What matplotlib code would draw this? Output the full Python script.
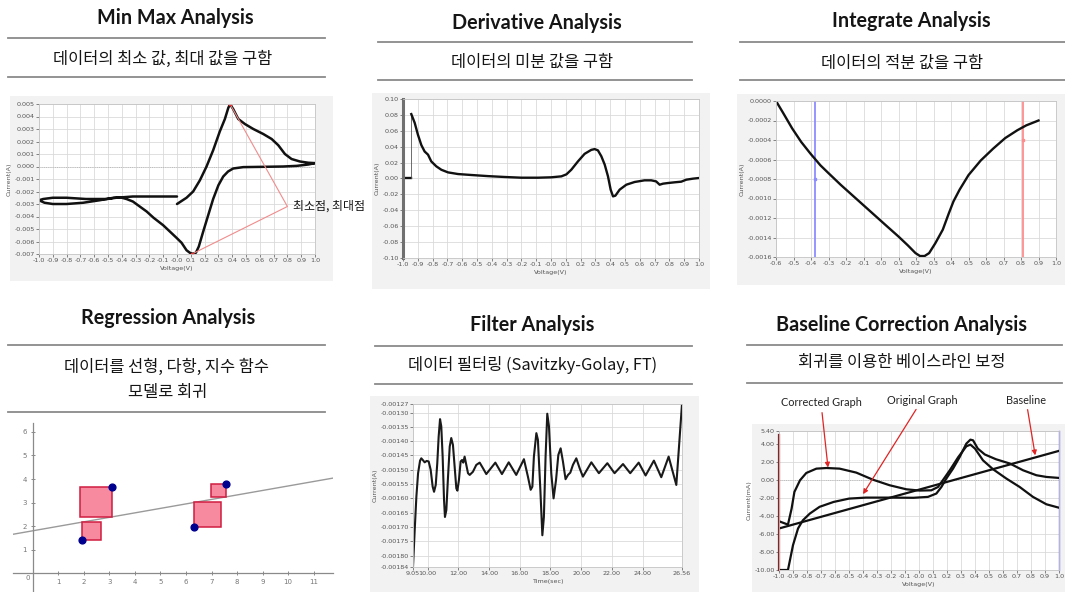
import numpy as np
import matplotlib.pyplot as plt
from matplotlib.lines import Line2D
from matplotlib.patches import Rectangle

# ---------------- data ----------------
# Min / Max: cyclic voltammogram, voltage (V) and current (A)
minmax_v = [0.000, 0.069, 0.117, 0.166, 0.214, 0.262, 0.310, 0.347, 0.372, 0.385,
            0.407, 0.444, 0.492, 0.553, 0.625, 0.686, 0.734, 0.782, 0.830, 0.891,
            0.952, 1.000, 0.952, 0.867, 0.770, 0.600, 0.480, 0.407, 0.370, 0.335,
            0.300, 0.262, 0.226, 0.190, 0.158, 0.137, 0.112, 0.093, 0.069, 0.033,
            -0.004, -0.052, -0.100, -0.170, -0.220, -0.270, -0.320, -0.366, -0.400, -0.460,
            -0.560, -0.680, -0.800, -0.900, -0.960, -1.000, -0.970, -0.900, -0.800, -0.660,
            -0.510, -0.440, -0.320, -0.200, -0.080, 0.000]
minmax_i = [-3.00e-3, -2.50e-3, -2.00e-3, -1.10e-3, 0.00e-3, 1.30e-3, 2.80e-3, 3.80e-3, 4.70e-3, 4.98e-3,
            4.60e-3, 3.80e-3, 3.40e-3, 3.00e-3, 2.60e-3, 2.20e-3, 1.70e-3, 1.00e-3, 0.60e-3, 0.40e-3,
            0.30e-3, 0.27e-3, 0.16e-3, 0.05e-3, 0.00e-3, -0.03e-3, -0.05e-3, -0.16e-3, -0.40e-3, -0.80e-3,
            -1.50e-3, -2.60e-3, -3.90e-3, -5.20e-3, -6.40e-3, -6.90e-3, -6.98e-3, -6.90e-3, -6.70e-3, -6.10e-3,
            -5.70e-3, -5.20e-3, -4.70e-3, -4.10e-3, -3.60e-3, -3.20e-3, -2.80e-3, -2.60e-3, -2.50e-3, -2.50e-3,
            -2.70e-3, -2.90e-3, -3.00e-3, -3.00e-3, -2.90e-3, -2.70e-3, -2.60e-3, -2.50e-3, -2.50e-3, -2.60e-3,
            -2.60e-3, -2.50e-3, -2.40e-3, -2.40e-3, -2.40e-3, -2.40e-3]

# Derivative of the sweep
deriv_v = [-1.000, -0.944, -0.944, -0.921, -0.899, -0.876, -0.854, -0.831, -0.809, -0.775,
           -0.741, -0.696, -0.628, -0.538, -0.426, -0.313, -0.200, -0.088, 0.002, 0.070,
           0.104, 0.137, 0.182, 0.227, 0.272, 0.295, 0.317, 0.340, 0.363, 0.385,
           0.403, 0.419, 0.435, 0.464, 0.509, 0.565, 0.632, 0.677, 0.710, 0.734,
           0.757, 0.790, 0.835, 0.880, 0.914, 0.959, 1.000]
deriv_i = [0.000, 0.000, 0.081, 0.070, 0.055, 0.042, 0.034, 0.030, 0.0215, 0.0153,
           0.0110, 0.0077, 0.0056, 0.0044, 0.0030, 0.0019, 0.0010, 0.0010, 0.0015, 0.0027,
           0.0052, 0.0110, 0.0215, 0.0310, 0.0360, 0.0370, 0.0354, 0.0280, 0.0174, 0.0027,
           -0.0140, -0.0225, -0.0216, -0.0140, -0.0078, -0.0044, -0.0023, -0.0023, -0.0036, -0.0078,
           -0.0065, -0.0057, -0.0048, -0.0040, -0.0015, -0.0002, 0.0006]

# Integral of the sweep
integ_v = [-0.600, -0.560, -0.508, -0.456, -0.403, -0.346, -0.300, -0.230, -0.143, -0.056,
           0.031, 0.100, 0.153, 0.197, 0.223, 0.249, 0.275, 0.310, 0.353, 0.388,
           0.414, 0.449, 0.500, 0.570, 0.640, 0.710, 0.779, 0.830, 0.900]
integ_i = [0.0000, -0.00012, -0.00028, -0.00042, -0.00054, -0.00066, -0.00074, -0.00086, -0.00100, -0.00114,
           -0.00128, -0.00139, -0.00148, -0.00156, -0.00159, -0.00159, -0.00156, -0.00146, -0.00132, -0.00115,
           -0.00103, -0.00091, -0.00076, -0.00061, -0.00049, -0.00038, -0.00030, -0.00025, -0.00020]
integ_bounds = [-0.38, 0.81]
integ_marks = [-0.00080, -0.00040]

# Regression sample points
reg_x = [1.92, 3.10, 6.32, 7.55]
reg_y = [1.40, 3.65, 1.96, 3.79]

# Filtered signal, time (s) and current (A)
filt_t = [9.05, 9.16, 9.27, 9.38, 9.51, 9.59, 9.72, 9.81, 9.94, 10.07,
          10.20, 10.33, 10.42, 10.53, 10.63, 10.72, 10.81, 10.89, 10.98, 11.07,
          11.13, 11.22, 11.33, 11.44, 11.54, 11.65, 11.76, 11.87, 11.94, 12.04,
          12.15, 12.24, 12.32, 12.41, 12.52, 12.63, 12.74, 12.95, 13.17, 13.39,
          13.61, 13.82, 14.41, 14.84, 15.28, 15.77, 16.27, 16.53, 16.71, 16.82,
          16.92, 17.08, 17.18, 17.34, 17.47, 17.57, 17.68, 17.79, 17.90, 18.05,
          18.20, 18.36, 18.51, 18.66, 18.81, 18.98, 19.14, 19.29, 19.46, 19.68,
          19.90, 20.11, 20.66, 21.15, 21.70, 22.17, 22.72, 23.19, 23.74, 24.19,
          24.73, 25.21, 25.69, 26.19, 26.56]
filt_i = [-184.0, -171.2, -159.4, -151.2, -146.8, -146.0, -146.8, -147.4, -146.9, -147.1,
          -150.0, -155.9, -157.7, -155.3, -147.7, -138.4, -132.3, -134.8, -145.4, -160.6,
          -166.5, -164.1, -152.4, -141.9, -138.9, -141.3, -148.9, -156.5, -157.3, -153.6,
          -147.1, -146.6, -147.5, -145.4, -148.3, -151.2, -151.8, -150.7, -148.3, -147.5,
          -149.5, -151.5, -147.5, -151.5, -147.4, -151.8, -146.3, -152.4, -157.0, -155.9,
          -145.4, -137.2, -139.5, -157.0, -172.9, -166.5, -145.4, -130.4, -134.8, -151.2,
          -160.0, -153.6, -144.8, -142.5, -147.1, -153.3, -151.8, -151.0, -148.3, -146.0,
          -149.5, -152.4, -147.4, -151.2, -147.7, -151.2, -148.0, -151.2, -147.5, -152.0,
          -146.8, -152.6, -145.4, -155.3, -127.0]
filt_i = [v * 1e-5 for v in filt_i]

# Baseline correction (mA)
orig_v = [-1.0, -0.936, -0.90, -0.864, -0.83, -0.78, -0.71, -0.61, -0.50, -0.38,
          -0.21, -0.04, 0.064, 0.124, 0.16, 0.195, 0.243, 0.29, 0.338, 0.367,
          0.386, 0.42, 0.47, 0.55, 0.65, 0.743, 0.838, 0.91, 1.0]
orig_i = [-10.0, -10.0, -7.25, -5.4, -4.5, -3.75, -3.0, -2.46, -2.09, -1.98,
          -1.98, -2.0, -1.9, -1.53, -0.8, 0.13, 1.23, 2.5, 4.0, 4.44,
          4.37, 3.45, 2.8, 2.27, 1.79, 1.05, 0.5, 0.31, 0.2]
corr_v = [-1.0, -0.936, -0.91, -0.89, -0.85, -0.805, -0.733, -0.66, -0.567, -0.448,
          -0.33, -0.21, -0.09, 0.005, 0.088, 0.136, 0.17, 0.22, 0.28, 0.338,
          0.367, 0.40, 0.457, 0.529, 0.624, 0.719, 0.814, 0.91, 1.0]
corr_i = [-4.6, -4.97, -3.2, -1.35, -0.06, 0.75, 1.23, 1.3, 1.23, 0.79,
          0.01, -0.61, -1.06, -1.2, -1.17, -0.8, -0.06, 1.05, 2.5, 3.7,
          3.89, 3.45, 2.15, 1.16, 0.13, -0.8, -1.9, -2.72, -3.1]
base_v = [-1.0, 1.0]
base_i = [-5.4, 3.2]

# tick labels
volt_ticks = [round(-1.0 + 0.1 * k, 1) for k in range(21)]
volt_labels = ['-1.0', '-0.9', '-0.8', '-0.7', '-0.6', '-0.5', '-0.4', '-0.3', '-0.2', '-0.1', '-0.0',
               '0.1', '0.2', '0.3', '0.4', '0.5', '0.6', '0.7', '0.8', '0.9', '1.0']

# ---------------- layout helpers ----------------
W, H = 1065, 592
plt.rcParams['font.family'] = ['DejaVu Sans']
fig = plt.figure(figsize=(W / 100, H / 100), dpi=100)
fig.patch.set_facecolor('white')

TXT = ['Lato', 'Noto Sans CJK KR']
KR = ['Noto Sans CJK KR', 'Lato']


def box(x0, y0, x1, y1):
    return [x0 / W, 1 - y1 / H, (x1 - x0) / W, (y1 - y0) / H]


def rule(x0, x1, y):
    fig.add_artist(Line2D([x0 / W, x1 / W], [1 - y / H, 1 - y / H], color='#8a8a8a', lw=1.3))


def header(cx, ty, title, subs, x0, x1, r1, r2):
    fig.text(cx / W, 1 - ty / H, title, ha='center', va='center', fontsize=14.2,
             fontweight='bold', family=TXT, color='#151515')
    for sx, sy, s in subs:
        fig.text(sx / W, 1 - sy / H, s, ha='center', va='center', fontsize=11.8,
                 family=KR, fontweight='medium', color='#151515')
    rule(x0, x1, r1)
    rule(x0, x1, r2)


def backdrop(x0, y0, x1, y1):
    fig.add_artist(Rectangle((x0 / W, 1 - y1 / H), (x1 - x0) / W, (y1 - y0) / H,
                             facecolor='#f2f2f2', edgecolor='none', zorder=0))


def scope(rect, xlim, ylim, xt, xl, yt, yl, xlabel, ylabel):
    ax = fig.add_axes(box(*rect))
    ax.set_xlim(xlim)
    ax.set_ylim(ylim)
    ax.set_xticks(xt)
    ax.set_xticklabels(xl)
    ax.set_yticks(yt)
    ax.set_yticklabels(yl)
    ax.grid(True, color='#dadada', lw=0.6)
    ax.set_axisbelow(True)
    ax.tick_params(labelsize=4.6, length=2, width=0.5, colors='#555555', pad=1)
    for s in ax.spines.values():
        s.set_color('#c4c4c4')
        s.set_linewidth(0.6)
    ax.set_xlabel(xlabel, fontsize=4.6, labelpad=2, color='#555555')
    ax.set_ylabel(ylabel, fontsize=4.6, labelpad=2, color='#555555')
    return ax


# ---------------- Min Max ----------------
header(175, 18, 'Min Max Analysis', [(163, 59, '데이터의 최소 값, 최대 값을 구함')], 8, 325, 38, 77)
backdrop(10, 96, 333, 281)
mm_yt = [0.005, 0.004, 0.003, 0.002, 0.001, 0.0, -0.001, -0.002, -0.003, -0.004, -0.005, -0.006, -0.007]
ax1 = scope((39, 104, 315, 254), (-1, 1), (-0.007, 0.005), volt_ticks, volt_labels,
            mm_yt, [f'{t:.3f}' for t in mm_yt], 'Voltage(V)', 'Current(A)')
ax1.axhline(0, color='#b0b0b0', lw=0.6, ls=':')
ax1.plot(minmax_v, minmax_i, color='#111111', lw=1.8, solid_capstyle='round')
kmax, kmin = int(np.argmax(minmax_i)), int(np.argmin(minmax_i))
pivot = (0.80, -0.0032)
ax1.plot([minmax_v[kmax], pivot[0], minmax_v[kmin]], [minmax_i[kmax], pivot[1], minmax_i[kmin]],
         color='#f08c8c', lw=0.8)
ax1.plot([minmax_v[kmax], minmax_v[kmin]], [minmax_i[kmax], minmax_i[kmin]], 's',
         color='#e83030', ms=2)
ax1.annotate('최소점, 최대점', xy=pivot, xytext=(4, 0), textcoords='offset points',
             va='center', fontsize=8.6, family=KR, color='#151515', annotation_clip=False)

# ---------------- Derivative ----------------
header(537, 23, 'Derivative Analysis', [(532, 62, '데이터의 미분 값을 구함')], 378, 692, 42, 80)
backdrop(372, 93, 710, 289)
dv_yt = [0.10, 0.08, 0.06, 0.04, 0.02, 0.0, -0.02, -0.04, -0.06, -0.08, -0.10]
ax2 = scope((403, 99, 699, 258), (-1, 1), (-0.1, 0.1), volt_ticks, volt_labels,
            dv_yt, [f'{t:.2f}' for t in dv_yt], 'Voltage(V)', 'Current(A)')
ax2.spines['left'].set_color('#707070')
ax2.spines['left'].set_linewidth(2.2)
# flat start, thin jump, then the smooth trace
ax2.plot(deriv_v[:2], deriv_i[:2], color='#111111', lw=1.7)
ax2.plot(deriv_v[1:3], deriv_i[1:3], color='#555555', lw=0.6)
ax2.plot(deriv_v[2:], deriv_i[2:], color='#111111', lw=1.7)

# ---------------- Integrate ----------------
header(911, 21, 'Integrate Analysis', [(902, 63, '데이터의 적분 값을 구함')], 740, 1065, 42, 80)
backdrop(737, 94, 1065, 285)
it_yt = [0.0, -0.0002, -0.0004, -0.0006, -0.0008, -0.0010, -0.0012, -0.0014, -0.0016]
it_xt = volt_ticks[4:]
ax3 = scope((776, 101, 1056, 257), (-0.6, 0.9), (-0.0016, 0.0), it_xt, volt_labels[4:],
            it_yt, [f'{t:.4f}' for t in it_yt], 'Voltage(V)', 'Current(A)')
ax3.axvline(integ_bounds[0], color='#8c8cff', lw=1.3)
ax3.axvline(integ_bounds[1], color='#ff8c8c', lw=1.3)
ax3.plot(integ_bounds[0], integ_marks[0], 's', color='#8c8cff', ms=2)
ax3.plot(integ_bounds[1], integ_marks[1], 's', color='#ff8c8c', ms=2)
ax3.plot(integ_v, integ_i, color='#111111', lw=1.7)

# ---------------- Regression ----------------
header(168, 318, 'Regression Analysis',
       [(167, 367, '데이터를 선형, 다항, 지수 함수'), (168, 392, '모델로 회귀')], 8, 325, 345, 412)
ax4 = fig.add_axes(box(13, 423, 333, 592))
ax4.set_xlim(-0.78, 11.76)
ax4.set_ylim(-0.8, 6.38)
for side in ('top', 'right'):
    ax4.spines[side].set_visible(False)
for side in ('left', 'bottom'):
    ax4.spines[side].set_position(('data', 0))
    ax4.spines[side].set_color('#8a8a8a')
    ax4.spines[side].set_linewidth(0.9)
ax4.set_xticks(range(1, 12))
ax4.set_yticks(range(1, 7))
ax4.tick_params(labelsize=5, colors='#777777', length=2.5, width=0.6, direction='inout', pad=3)
ax4.text(-0.22, -0.22, '0', fontsize=5, color='#777777', ha='center', va='center')
slope, icpt = np.polyfit(reg_x, reg_y, 1)
line_x = np.array(ax4.get_xlim())
ax4.plot(line_x, slope * line_x + icpt, color='#9a9a9a', lw=1.0)
for px, py in zip(reg_x, reg_y):
    fit = slope * px + icpt
    side = abs(py - fit)
    x0 = px if py < fit else px - side
    ax4.add_patch(Rectangle((x0, min(py, fit)), side, side, facecolor='#f78a9f',
                            edgecolor='#d01c40', lw=1.1, zorder=3))
ax4.scatter(reg_x, reg_y, s=24, color='#00008f', zorder=5)

# ---------------- Filter ----------------
header(532, 325, 'Filter Analysis', [(533, 365, '데이터 필터링 (Savitzky-Golay, FT)')], 375, 692, 346, 384)
backdrop(370, 396, 699, 592)
fl_yt = [-0.00127, -0.00130, -0.00135, -0.00140, -0.00145, -0.00150, -0.00155, -0.00160,
         -0.00165, -0.00170, -0.00175, -0.00180, -0.00184]
fl_xt = [9.05, 10.0, 12.0, 14.0, 16.0, 18.0, 20.0, 22.0, 24.0, 26.56]
ax5 = scope((413, 404, 682, 567), (9.05, 26.56), (-0.00184, -0.00127), fl_xt,
            [f'{t:.2f}' for t in fl_xt], fl_yt, [f'{t:.5f}' for t in fl_yt], 'Time(sec)', 'Current(A)')
ax5.plot(filt_t, filt_i, color='#1a1a1a', lw=1.5)

# ---------------- Baseline correction ----------------
header(902, 325, 'Baseline Correction Analysis', [(902, 363, '회귀를 이용한 베이스라인 보정')],
       747, 1062, 345, 383)
backdrop(752, 424, 1065, 592)
bc_yt = [5.4, 4.0, 2.0, 0.0, -2.0, -4.0, -6.0, -8.0, -10.0]
ax6 = scope((779, 431, 1059, 570), (-1, 1), (-10, 5.4), volt_ticks, volt_labels,
            bc_yt, [f'{t:.2f}' for t in bc_yt], 'Voltage(V)', 'Current(mA)')
ax6.axhline(0, color='#b0b0b0', lw=0.6, ls=':')
ax6.plot([-1, -1], [-10, 5.0], color='#8b2020', lw=1.6, clip_on=False)
ax6.plot([1, 1], [-10, 5.4], color='#7070ff', lw=1.0, clip_on=False)
ax6.plot(base_v, base_i, color='#111111', lw=1.6)
ax6.plot(orig_v, orig_i, color='#111111', lw=1.6)
ax6.plot(corr_v, corr_i, color='#111111', lw=1.6)

arrow = dict(arrowstyle='-|>', color='#e02424', lw=0.9, mutation_scale=7, shrinkA=1, shrinkB=0)
for label, tip, pos in [('Corrected Graph', (-0.65, 1.35), (821, 403)),
                        ('Original Graph', (-0.40, -1.6), (922, 400)),
                        ('Baseline', (0.83, 2.7), (1026, 400))]:
    ax6.annotate(label, xy=tip, xytext=(pos[0], H - pos[1]), textcoords='figure pixels',
                 ha='center', va='center', fontsize=7.8, family=TXT, color='#222222',
                 arrowprops=arrow, annotation_clip=False)

fig.savefig('out.png', dpi=100)
